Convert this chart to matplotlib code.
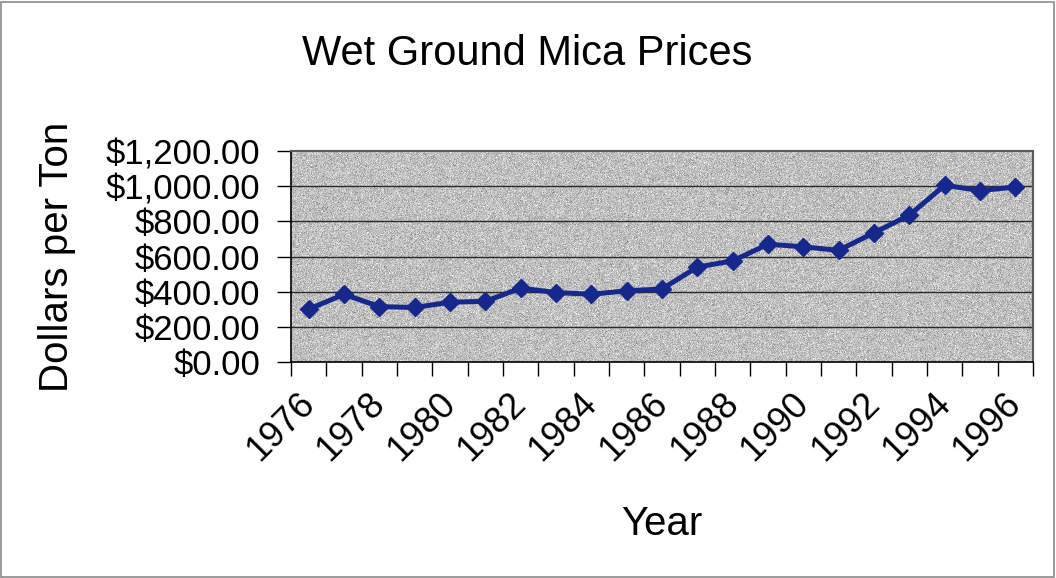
import numpy as np
import matplotlib
matplotlib.use("Agg")
import matplotlib.pyplot as plt
from matplotlib.ticker import FuncFormatter, FixedLocator
from matplotlib.patches import Rectangle
import matplotlib.transforms as mtransforms

plt.rcParams['font.family'] = ['Liberation Sans', 'DejaVu Sans']

# Wet ground mica price, dollars per ton
years = list(range(1976, 1997))
prices = [300, 385, 315, 310, 340, 345, 420, 395, 385, 405, 415,
          540, 575, 670, 655, 635, 735, 835, 1005, 975, 995]
y_ticks = [0, 200, 400, 600, 800, 1000, 1200]
x_tick_labels = [str(y) for y in years[::2]]

fig = plt.figure(figsize=(10.56, 5.78), dpi=100)
fig.patch.set_facecolor('white')
ax = fig.add_axes([291 / 1056, 1 - 362 / 578, (1033 - 291) / 1056, (362 - 151) / 578])

n = len(years)
x = np.arange(n)
ax.set_xlim(-0.5, n - 0.5)
ax.set_ylim(0, 1200)

# grainy gray fill of the plot area
rng = np.random.default_rng(7)
grain = np.clip(0.75 + rng.normal(0, 0.075, (211, 742)), 0, 1)
ax.imshow(grain, cmap='gray', vmin=0, vmax=1, extent=(-0.5, n - 0.5, 0, 1200),
          aspect='auto', interpolation='nearest', zorder=0)

for v in y_ticks[1:-1]:
    ax.axhline(v, color='#2a2a2a', lw=1.0, zorder=1)

ax.plot(x, prices, color='#16288c', lw=3.6, marker='D', markersize=9,
        markerfacecolor='#16288c', markeredgecolor='#16288c', zorder=3)

# y axis
ax.yaxis.set_major_locator(FixedLocator(y_ticks))
ax.yaxis.set_major_formatter(FuncFormatter(lambda v, p: f"${v:,.2f}"))
ax.tick_params(axis='y', direction='out', length=10, width=1, pad=12,
               labelsize=25, colors='black')

# x axis: ticks at category boundaries, labels at every other category
ax.set_xticks(np.arange(-0.5, n, 1.0))
ax.set_xticklabels([])
ax.set_xticks(x[::2], minor=True)
ax.set_xticklabels(x_tick_labels, minor=True, rotation=45, ha='right', va='top',
                   rotation_mode='anchor', fontsize=26)
ax.tick_params(axis='x', which='major', direction='out', length=10, width=1)
ax.tick_params(axis='x', which='minor', length=0, pad=17)
offset = mtransforms.ScaledTranslation(-12 / 100, 0, fig.dpi_scale_trans)
for lbl in ax.get_xticklabels(minor=True):
    lbl.set_transform(lbl.get_transform() + offset)

for side in ['left', 'bottom']:
    ax.spines[side].set_color('black')
    ax.spines[side].set_linewidth(1.2)
for side in ['top', 'right']:
    ax.spines[side].set_color('#5a5a5a')
    ax.spines[side].set_linewidth(1.5)

fig.text(527 / 1056, 1 - 65 / 578, "Wet Ground Mica Prices", ha='center',
         va='baseline', fontsize=30)
fig.text(662 / 1056, 1 - 535 / 578, "Year", ha='center', va='baseline', fontsize=29)
fig.text(57 / 1056, 1 - 257 / 578, "Dollars per Ton", ha='center', va='center',
         rotation=90, fontsize=29)

fig.patches.append(Rectangle((0.001, 0.002), 0.997, 0.995, transform=fig.transFigure,
                             fill=False, edgecolor='#8a8a8a', lw=1.2))

fig.savefig("out.png", dpi=100)
